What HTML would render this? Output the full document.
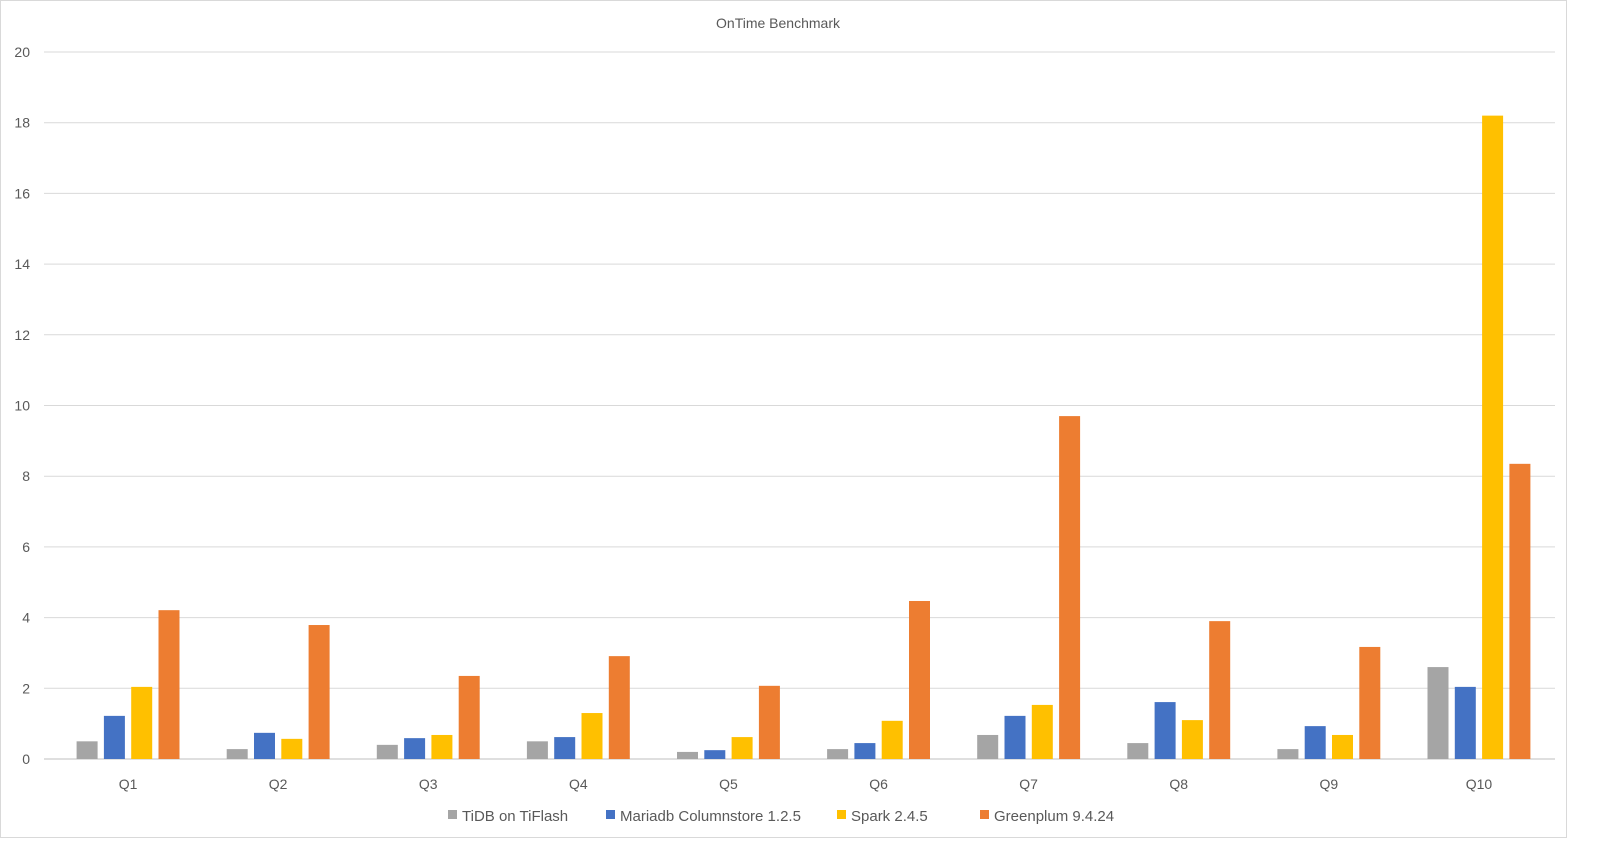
<!DOCTYPE html>
<html><head><meta charset="utf-8"><style>
html,body{margin:0;padding:0;background:#fff;}
svg{display:block;font-family:"Liberation Sans",sans-serif;}
</style></head><body>
<svg id="chart" width="1600" height="856" viewBox="0 0 1600 856">
<rect x="0.5" y="0.5" width="1566" height="837" fill="#fff" stroke="#d9d9d9"/>
<text x="778" y="28" text-anchor="middle" font-size="14" fill="#595959">OnTime Benchmark</text>
<g id="grid"></g><g id="bars"></g><g id="xlabels"></g><g id="legend"></g>
</svg>
<script>
const categories=["Q1","Q2","Q3","Q4","Q5","Q6","Q7","Q8","Q9","Q10"];
const seriesNames=["TiDB on TiFlash","Mariadb Columnstore 1.2.5","Spark 2.4.5","Greenplum 9.4.24"];
const tidb=[0.5,0.28,0.4,0.5,0.2,0.28,0.68,0.45,0.28,2.6];
const mariadb=[1.22,0.74,0.59,0.62,0.25,0.45,1.22,1.61,0.93,2.04];
const spark=[2.04,0.57,0.68,1.3,0.62,1.08,1.53,1.1,0.68,18.2];
const greenplum=[4.21,3.79,2.35,2.91,2.07,4.47,9.7,3.9,3.17,8.35];
const yTicks=[0,2,4,6,8,10,12,14,16,18,20];
const colors=["#a5a5a5","#4472c4","#ffc000","#ed7d31"];
const NS="http://www.w3.org/2000/svg";
const y0=759,y20=52,gL=44,gR=1555,xL=53,xR=1554;
const yS=v=>y0-(v/20)*(y0-y20);
const band=(xR-xL)/categories.length;
const xC=i=>xL+band*(i+0.5);
function mk(t,a,p){const e=document.createElementNS(NS,t);for(const k in a)e.setAttribute(k,a[k]);p.appendChild(e);return e;}
const grid=document.getElementById('grid');
yTicks.forEach(v=>{
 const l=mk('line',{x1:gL,x2:gR,y1:yS(v),y2:yS(v),stroke:v===0?'#bfbfbf':'#d9d9d9','stroke-width':1},grid);
 
 
 const t=mk('text',{x:30,y:yS(v)+5,'text-anchor':'end','font-size':14,fill:'#595959'},grid);
 t.textContent=v;
 
 
});
const all=[tidb,mariadb,spark,greenplum];
const bars=document.getElementById('bars');
const bw=21,gap=6.3;
categories.forEach((c,i)=>{
 all.forEach((s,j)=>{
  const x=xC(i)-2*bw-1.5*gap+j*(bw+gap);
  const r=mk('rect',{x:x,y:yS(s[i]),width:bw,height:y0-yS(s[i]),fill:colors[j]},bars);
  
  
 });
 const t=mk('text',{x:xC(i),y:789,'text-anchor':'middle','font-size':14,fill:'#595959'},document.getElementById('xlabels'));
 t.textContent=c;
 
 
});
const lg=document.getElementById('legend');
const lx=[448,606,837,980];
seriesNames.forEach((n,j)=>{
 const g=mk('g',{},lg);
 
 
 mk('rect',{x:lx[j],y:810,width:9,height:9,fill:colors[j]},g);
 const t=mk('text',{x:lx[j]+14,y:821,'font-size':15,fill:'#595959'},g);
 t.textContent=n;
});
</script>
</body></html>
